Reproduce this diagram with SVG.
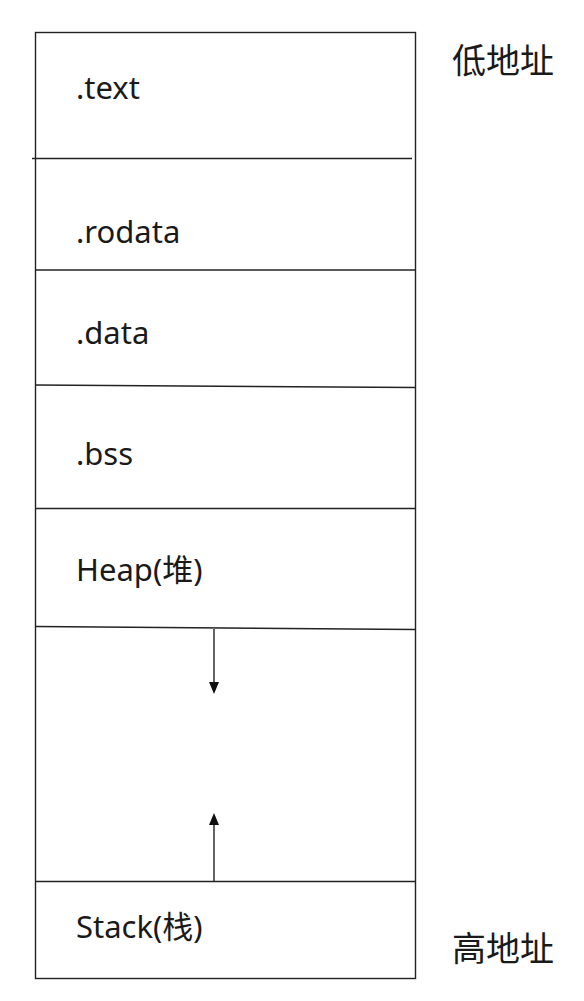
<svg xmlns="http://www.w3.org/2000/svg" width="584" height="1001" viewBox="0 0 584 1001">
<style>
.ln{stroke:#222;stroke-width:1.4;fill:none}
.head{fill:#111}
.lbl{font-family:"Noto Sans","Noto Sans CJK SC",sans-serif;font-size:31px;fill:#1a1a1a}
.addr{font-family:"Noto Sans CJK SC",sans-serif;font-size:34px;fill:#1a1a1a}
</style>
<rect width="584" height="1001" fill="#fff"/>
<g id="memory">
<rect class="ln" x="35.5" y="32.5" width="380" height="946"/>
</g>
<g id="seg-text"><text class="lbl" x="76" y="99">.text</text></g>
<g id="seg-rodata"><text class="lbl" x="76" y="243">.rodata</text></g>
<g id="seg-data"><text class="lbl" x="76" y="344">.data</text></g>
<g id="seg-bss"><text class="lbl" x="76" y="465">.bss</text></g>
<g id="seg-heap"><text class="lbl" x="76" y="581">Heap(堆)</text></g>
<g id="seg-stack"><text class="lbl" x="76" y="938">Stack(栈)</text></g>
<g id="label-low"><text class="addr" x="452" y="73">低地址</text></g>
<g id="label-high"><text class="addr" x="452" y="961">高地址</text></g>
<g id="dividers">
<line class="ln" x1="32" y1="158.5" x2="412" y2="158.5"/>
<line class="ln" x1="35.5" y1="270" x2="415.5" y2="270"/>
<line class="ln" x1="35.5" y1="385" x2="415.5" y2="387.5"/>
<line class="ln" x1="35.5" y1="508.5" x2="415.5" y2="508.5"/>
<line class="ln" x1="35.5" y1="626.5" x2="415.5" y2="629.5"/>
<line class="ln" x1="35.5" y1="881.5" x2="415.5" y2="881.5"/>
</g>
<g id="connectors">
<line class="ln" x1="214" y1="629" x2="214" y2="684"/>
<polygon class="head" points="209,682 219,682 214,694"/>
<line class="ln" x1="214" y1="881" x2="214" y2="823"/>
<polygon class="head" points="209,825 219,825 214,813"/>
</g>
</svg>
